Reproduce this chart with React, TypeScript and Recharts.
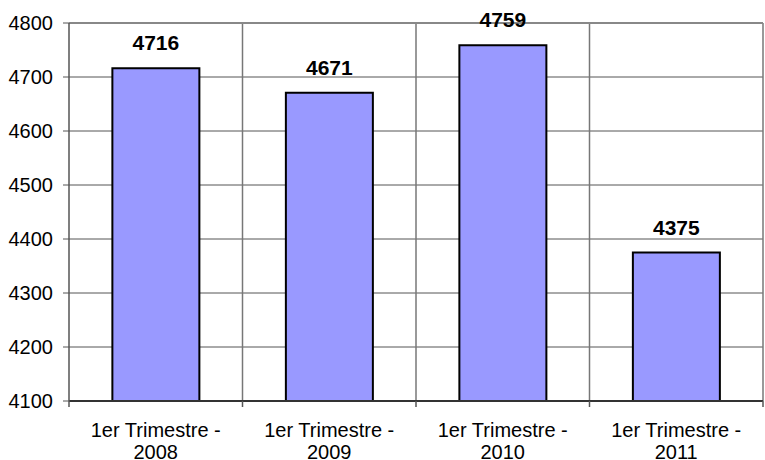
import React from "react";
import { BarChart, Bar, XAxis, YAxis, CartesianGrid, LabelList, ReferenceLine } from "recharts";

const categories = ["1er Trimestre - 2008", "1er Trimestre - 2009", "1er Trimestre - 2010", "1er Trimestre - 2011"];
const values = [4716, 4671, 4759, 4375];
const yTicks = [4100, 4200, 4300, 4400, 4500, 4600, 4700, 4800];

const data = categories.map((c, i) => ({ name: c, value: values[i] }));

const FONT = "'Liberation Sans', Arial, sans-serif";
const W = 765;
const H = 460;
const LEFT = 69;
const RIGHT = 2;
const TOP = 23;
const XH = 59;
const PLOT_BOTTOM = H - XH;
const BAND = (W - LEFT - RIGHT) / categories.length;

const XTick = (props: any) => {
  const { x, payload, index } = props;
  const label: string = payload.value;
  const parts = label.split(" - ");
  const line1 = parts[0] + " -";
  const line2 = parts[1];
  const left = x - BAND / 2;
  return (
    <g>
      <line x1={left} x2={left} y1={PLOT_BOTTOM} y2={PLOT_BOTTOM + 6} stroke="#555" strokeWidth={1.5} />
      {index === categories.length - 1 && (
        <line x1={left + BAND} x2={left + BAND} y1={PLOT_BOTTOM} y2={PLOT_BOTTOM + 6} stroke="#555" strokeWidth={1.5} />
      )}
      <text x={x} y={PLOT_BOTTOM + 36} textAnchor="middle" fontFamily={FONT} fontSize={20} fill="#000">
        <tspan x={x}>{line1}</tspan>
        <tspan x={x} dy={22}>{line2}</tspan>
      </text>
    </g>
  );
};

export default function App() {
  return (
    <div style={{ position: "absolute", left: 0, top: 0, background: "#fff" }}>
      <BarChart width={W} height={H} data={data} margin={{ top: TOP, right: RIGHT, left: 0, bottom: 0 }} barCategoryGap="25%">
        <CartesianGrid horizontal={true} vertical={false} stroke="#555" strokeWidth={1} />
        <CartesianGrid
          horizontal={false}
          vertical={true}
          stroke="#777"
          strokeWidth={1.5}
          verticalCoordinatesGenerator={({ offset }: any) =>
            [1, 2, 3, 4].map((i) => offset.left + (i * offset.width) / 4)
          }
        />
        <ReferenceLine y={4800} stroke="#888" strokeWidth={2} />
        <XAxis
          dataKey="name"
          height={XH}
          interval={0}
          tickLine={false}
          axisLine={{ stroke: "#333", strokeWidth: 2 }}
          tick={<XTick />}
        />
        <YAxis
          width={LEFT}
          domain={[4100, 4800]}
          ticks={yTicks}
          interval={0}
          tickSize={6}
          tickMargin={10}
          tickLine={{ stroke: "#555" }}
          axisLine={{ stroke: "#555", strokeWidth: 1.5 }}
          tick={{ fontFamily: FONT, fontSize: 20, fill: "#000" }}
          allowDataOverflow
        />
        <Bar dataKey="value" fill="#9999FF" stroke="#000" strokeWidth={2} isAnimationActive={false}>
          <LabelList dataKey="value" position="top" offset={18} fontFamily={FONT} fontSize={21} fontWeight="bold" fill="#000" />
        </Bar>
      </BarChart>
    </div>
  );
}
